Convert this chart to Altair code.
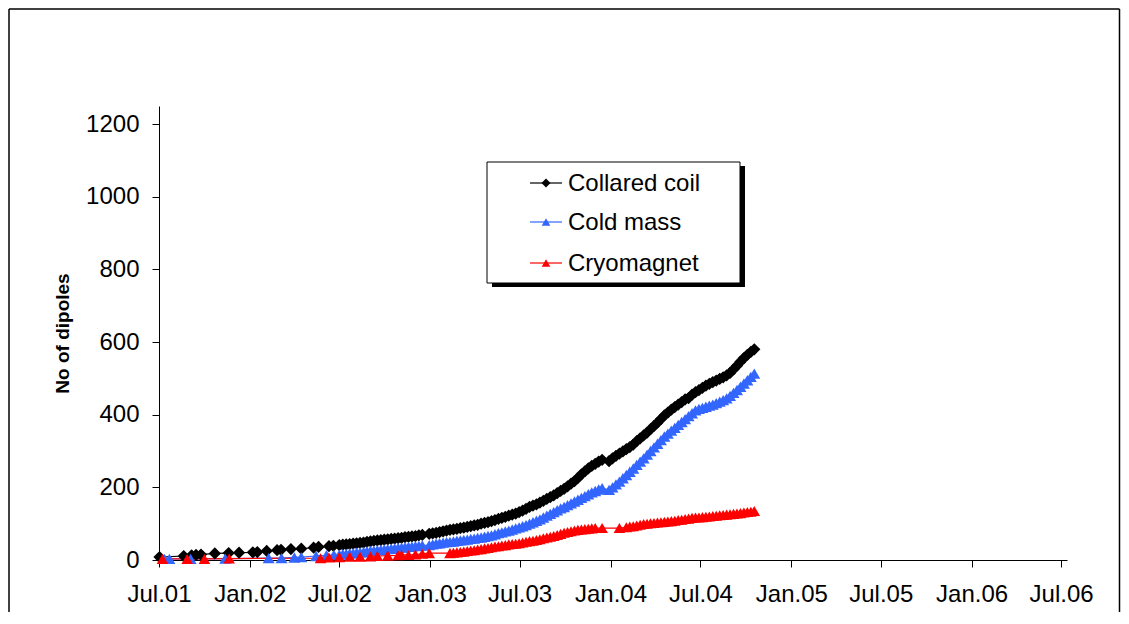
import altair as alt
import pandas as pd

FONT = "Liberation Sans"

SERIES = ["Collared coil", "Cold mass", "Cryomagnet"]
COLORS = ["#000000", "#3366FF", "#FF0000"]
SHAPES = ["diamond", "triangle-up", "triangle-up"]
SIZES = [150, 135, 135]

# ---- sparse early readings (explicit dates) ----
COIL_EARLY_DATES = ["2001-07-02", "2001-08-20", "2001-09-05", "2001-09-14", "2001-09-24",
                    "2001-10-22", "2001-11-19", "2001-12-10", "2002-01-07", "2002-01-16",
                    "2002-02-04", "2002-02-25", "2002-03-05", "2002-03-25", "2002-04-15",
                    "2002-05-10", "2002-05-20", "2002-06-10", "2002-06-19"]
COIL_EARLY = [8, 11, 13, 14, 15, 18, 19, 20, 21, 22, 25, 27, 28, 30, 31, 34, 36, 38, 39]

MASS_EARLY_DATES = ["2001-07-12", "2001-07-22", "2001-09-03", "2001-11-12", "2002-02-08",
                    "2002-03-06", "2002-04-01", "2002-04-15", "2002-05-15", "2002-06-05",
                    "2002-06-20"]
MASS_EARLY = [3, 3, 3, 4, 5, 5, 7, 8, 11, 13, 14]

CRYO_EARLY_DATES = ["2001-07-08", "2001-08-27", "2001-10-01", "2001-11-20", "2002-05-24",
                    "2002-06-10"]
CRYO_EARLY = [3, 3, 3, 4, 5, 7]

# ---- weekly readings from 2002-07-01 (None = no reading that week) ----
WEEKLY_START = "2002-07-01"

COIL_WEEKLY = [
    41, 42, 43, 44, 45,          # Jul 02
    46, 47, 48, 50,              # Aug
    51, 53, 54, 55, 56,          # Sep
    57, 58, 59, 60,              # Oct
    61, 63, 64, 65,              # Nov
    66, 68, 69, None, 72,        # Dec
    73, 75, 77, 79,              # Jan 03
    81, 83, 84, 86,              # Feb
    88, 89, 91, 93, 95,          # Mar
    97, 100, 102, 104,           # Apr
    107, 110, 113, 116,          # May
    119, 122, 125, 128, 132,     # Jun
    136, 141, 146, 150,          # Jul
    153, 158, 163, 168,          # Aug
    173, 178, 184, 190, 196,     # Sep
    203, 210, 217, 226,          # Oct
    236, 244, 252, 259,          # Nov
    265, 271, 276, None, 272,    # Dec
    280, 287, 293, 299,          # Jan 04
    305, 311, 318, 327,          # Feb
    335, 343, 351, 360, 369,     # Mar
    378, 388, 398, 406,          # Apr
    414, 421, 428, 435, 442,     # May
    446, 455, 462, 468,          # Jun
    474, 480, 485, 490,          # Jul
    494, 499, 503, 508, 515,     # Aug
    525, 535, 546, 556,          # Sep
    565, 573, 580,               # Oct
]

MASS_WEEKLY = [
    15, 16, 17, 18, 19,
    20, 21, 22, 24,
    25, 26, 27, 28, 29,
    30, 31, 32, 33,
    34, 35, 36, 37,
    38, 39, 40, None, 41,
    43, 45, 46, 48,
    49, 50, 51, 53,
    54, 55, 56, 58, 59,
    61, 62, 64, 66,
    68, 71, 74, 76,
    79, 81, 84, 87, 90,
    93, 96, 100, 104,
    108, 112, 117, 122,
    127, 132, 137, 142, 146,
    151, 156, 161, 166,
    171, 176, 181, 186,
    190, 194, 198, None, 193,
    200, 208, 216, 225,
    234, 243, 252, 262,
    271, 280, 290, 300, 310,
    320, 330, 340, 348,
    356, 364, 372, 380, 388,
    396, 404, 412, 416,
    419, 422, 425, 428,
    432, 436, 440, 445, 452,
    460, 468, 477, 486,
    495, 504, 513,
]

CRYO_WEEKLY = [
    8, None, None, 9, None,
    None, 9, None, None,
    10, None, 11, None, None,
    12, None, None, 13,
    14, None, 14, None,
    15, None, 17, None, 19,
    None, None, None, None,
    None, 19, 20, 21,
    22, 23, 25, 26, 27,
    29, 30, 32, 33,
    35, 37, 38, 40,
    41, 43, 44, 45, 46,
    48, 50, 52, 53,
    55, 57, 60, 62,
    64, 66, 69, 72, 75,
    77, 79, 81, 83,
    84, 85, 86, 87,
    88, None, 88, None, None,
    None, None, 88, None,
    90, 92, 93, 95,
    97, 99, 100, 101, 102,
    103, 104, 105, 106,
    107, 108, 110, 111, 113,
    114, 116, 117, 117,
    118, 119, 120, 121,
    122, 123, 124, 125, 126,
    127, 128, 129, 131,
    132, 133, 135,
]

X_TICKS = ["2001-07-01", "2002-01-01", "2002-07-01", "2003-01-01", "2003-07-01",
           "2004-01-01", "2004-07-01", "2005-01-01", "2005-07-01", "2006-01-01",
           "2006-07-01"]
X_DOMAIN = ["2001-07-01", "2006-07-13"]
Y_TICKS = [0, 200, 400, 600, 800, 1000, 1200]
Y_DOMAIN = [0, 1250]


def ms(d):
    return int(pd.Timestamp(d).value // 10**6)


rows = []
parts = [
    (SERIES[0], COIL_EARLY_DATES, COIL_EARLY, COIL_WEEKLY),
    (SERIES[1], MASS_EARLY_DATES, MASS_EARLY, MASS_WEEKLY),
    (SERIES[2], CRYO_EARLY_DATES, CRYO_EARLY, CRYO_WEEKLY),
]
for name, edates, evals, weekly in parts:
    for d, v in zip(edates, evals):
        rows.append({"date": ms(d), "value": v, "series": name})
    wdates = pd.date_range(WEEKLY_START, periods=len(weekly), freq="7D")
    for d, v in zip(wdates, weekly):
        if v is not None:
            rows.append({"date": ms(d), "value": v, "series": name})
df = pd.DataFrame(rows)

# geometry (svg px)
PLOT_W, PLOT_H = 908, 454
PAD_L, PAD_T = 151, 98
TOTAL_W, TOTAL_H = 1113, 604

xscale = alt.Scale(type="utc", domain=[ms(d) for d in X_DOMAIN], nice=False)
yscale = alt.Scale(domain=Y_DOMAIN, nice=False, zero=True)
cscale = alt.Scale(domain=SERIES, range=COLORS)
sscale = alt.Scale(domain=SERIES, range=SHAPES)
zscale = alt.Scale(domain=SERIES, range=SIZES)

x_enc = alt.X(
    "date:T", scale=xscale,
    axis=alt.Axis(
        values=[ms(d) for d in X_TICKS], title=None, grid=False,
        labelExpr="utcFormat(datum.value, '%b') + '.' + utcFormat(datum.value, '%y')",
        labelFont=FONT, labelFontSize=24, labelColor="#000", labelPadding=15,
        tickSize=7, tickColor="#000", domainColor="#000", labelOverlap=False,
        labelFlush=False,
    ),
)
y_enc = alt.Y(
    "value:Q", scale=yscale,
    axis=alt.Axis(
        values=Y_TICKS, format="d", title="No of dipoles", grid=False,
        labelFont=FONT, labelFontSize=24, labelColor="#000", labelPadding=13,
        tickSize=7, tickColor="#000", domainColor="#000",
        titleFont=FONT, titleFontSize=19, titleFontWeight="bold", titleColor="#000",
        titleAngle=270, titleX=-91, titleY=PLOT_H / 2, titleAlign="center",
        titleBaseline="alphabetic",
    ),
)

base = alt.Chart(df)
lines = base.mark_line(strokeWidth=1.2).encode(
    x=x_enc, y=y_enc,
    color=alt.Color("series:N", scale=cscale, legend=None),
    detail="series:N",
)
points = base.mark_point(filled=True, opacity=1, strokeWidth=0).encode(
    x="date:T", y="value:Q",
    color=alt.Color("series:N", scale=cscale, legend=None),
    shape=alt.Shape("series:N", scale=sscale, legend=None),
    size=alt.Size("series:N", scale=zscale, legend=None),
)

one = alt.Data(values=[{"k": 0}])

# outer frame (left, top, right)
fx0, fy0 = -PAD_L + 1, -PAD_T + 1
fx1 = TOTAL_W - PAD_L - 1.5
fy1 = TOTAL_H - PAD_T + 10
frame = [
    alt.Chart(one).mark_rule(color="#000", strokeWidth=1.5).encode(
        x=alt.value(fx0), y=alt.value(fy0), y2=alt.value(fy1)),
    alt.Chart(one).mark_rule(color="#000", strokeWidth=1.5).encode(
        x=alt.value(fx0), x2=alt.value(fx1), y=alt.value(fy0)),
    alt.Chart(one).mark_rule(color="#000", strokeWidth=1.5).encode(
        x=alt.value(fx1), y=alt.value(fy0), y2=alt.value(fy1)),
]

# legend box with shadow
LX0, LY0, LX1, LY1 = 328, 56, 581, 177
legend_layers = [
    alt.Chart(one).mark_rect(color="#000").encode(
        x=alt.value(LX0 + 5), x2=alt.value(LX1 + 5),
        y=alt.value(LY0 + 4), y2=alt.value(LY1 + 4)),
    alt.Chart(one).mark_rect(fill="#fff", stroke="#000", strokeWidth=1).encode(
        x=alt.value(LX0), x2=alt.value(LX1), y=alt.value(LY0), y2=alt.value(LY1)),
]
ROW_Y = [77, 116, 157]
for name, col, shp, sz, ry in zip(SERIES, COLORS, SHAPES, SIZES, ROW_Y):
    legend_layers.append(
        alt.Chart(one).mark_rule(color=col, strokeWidth=1.2).encode(
            x=alt.value(371), x2=alt.value(403), y=alt.value(ry)))
    legend_layers.append(
        alt.Chart(one).mark_point(filled=True, opacity=1, color=col, shape=shp,
                                  size=sz * 0.55, strokeWidth=0).encode(
            x=alt.value(387), y=alt.value(ry)))
    legend_layers.append(
        alt.Chart(one).mark_text(text=name, align="left", baseline="middle",
                                 font=FONT, fontSize=24, color="#000").encode(
            x=alt.value(409), y=alt.value(ry + 1)))

chart = alt.layer(*frame, lines, points, *legend_layers).properties(
    width=PLOT_W, height=PLOT_H,
    autosize=alt.AutoSizeParams(type="none"),
    padding={"left": PAD_L, "top": PAD_T,
             "right": TOTAL_W - PAD_L - PLOT_W, "bottom": TOTAL_H - PAD_T - PLOT_H},
    background="#ffffff",
).configure_view(stroke=None)

chart.save("out.html", embed_options={"renderer": "svg", "actions": False})
